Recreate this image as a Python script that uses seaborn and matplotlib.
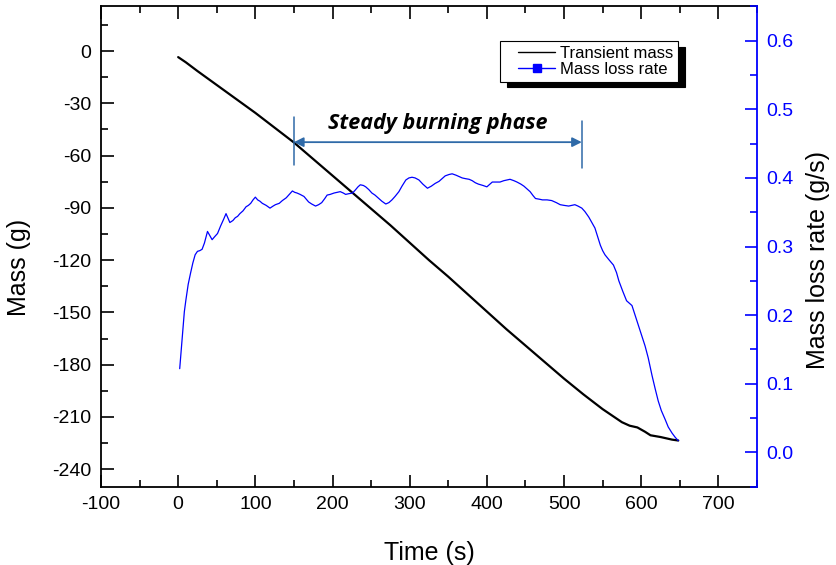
import matplotlib
matplotlib.use("Agg")
import matplotlib.pyplot as plt
from matplotlib.lines import Line2D
from matplotlib.legend_handler import HandlerLine2D
from matplotlib.ticker import MultipleLocator, FormatStrFormatter
import seaborn as sns
import pandas as pd

# transient mass (g) vs time (s)
mass_time = [0, 10, 25, 50, 75, 100, 125, 150, 175, 200, 225, 250, 275, 300,
             325, 350, 375, 400, 425, 450, 475, 500, 525, 550, 575, 585, 595,
             605, 612, 625, 640, 648]
mass_vals = [-3.5, -6.5, -11.5, -19.5, -27.5, -35.5, -44, -52.5, -62, -71.5,
             -81, -90.5, -100, -110, -120, -129.5, -139.5, -149.5, -159.5,
             -169, -178.5, -188, -197, -205.5, -213, -215, -216, -218.5,
             -220.5, -221.5, -223, -223.5]

# mass loss rate (g/s) vs time (s)
rate_time = [2, 4, 6, 8, 10, 13, 16, 19, 22, 25, 28, 31, 34, 38, 41, 44, 47,
             51, 55, 59, 62, 65, 67, 71, 74, 77, 80, 84, 88, 91, 94, 97, 100,
             103, 106, 109, 114, 119, 123, 126, 131, 135, 140, 144, 148, 151,
             154, 158, 163, 166, 169, 173, 178, 182, 186, 190, 193, 197, 202,
             206, 210, 214, 217, 221, 226, 230, 233, 236, 240, 243, 247, 251,
             255, 260, 264, 269, 273, 277, 281, 286, 290, 295, 299, 303, 307,
             312, 317, 323, 328, 333, 338, 342, 346, 351, 355, 360, 364, 368,
             372, 377, 381, 385, 389, 395, 400, 404, 407, 412, 417, 422, 426,
             430, 435, 439, 444, 448, 452, 456, 460, 463, 468, 472, 478, 484,
             490, 495, 500, 506, 510, 514, 518, 523, 527, 532, 536, 540, 544,
             547, 550, 553, 558, 564, 568, 571, 576, 581, 585, 588, 592, 596,
             600, 605, 609, 614, 618, 622, 626, 631, 635, 640, 644, 648]
rate_vals = [0.122, 0.150, 0.180, 0.205, 0.222, 0.245, 0.261, 0.276, 0.288,
             0.293, 0.294, 0.296, 0.305, 0.322, 0.316, 0.310, 0.314, 0.319,
             0.330, 0.340, 0.348, 0.340, 0.335, 0.338, 0.342, 0.344, 0.348,
             0.352, 0.358, 0.360, 0.363, 0.368, 0.372, 0.368, 0.366, 0.363,
             0.360, 0.356, 0.359, 0.361, 0.363, 0.367, 0.371, 0.376, 0.381,
             0.379, 0.378, 0.376, 0.373, 0.369, 0.365, 0.362, 0.359, 0.361,
             0.364, 0.370, 0.375, 0.376, 0.378, 0.379, 0.380, 0.378, 0.376,
             0.377, 0.378, 0.383, 0.387, 0.390, 0.389, 0.387, 0.383, 0.378,
             0.375, 0.370, 0.366, 0.362, 0.364, 0.368, 0.373, 0.380, 0.388,
             0.397, 0.400, 0.401, 0.400, 0.397, 0.391, 0.385, 0.388, 0.392,
             0.395, 0.399, 0.403, 0.405, 0.406, 0.404, 0.402, 0.400, 0.399,
             0.398, 0.396, 0.393, 0.391, 0.389, 0.387, 0.391, 0.394, 0.394,
             0.394, 0.396, 0.397, 0.398, 0.396, 0.394, 0.391, 0.388, 0.384,
             0.380, 0.374, 0.370, 0.369, 0.368, 0.368, 0.367, 0.364, 0.361,
             0.360, 0.359, 0.360, 0.361, 0.359, 0.356, 0.351, 0.343, 0.335,
             0.327, 0.313, 0.302, 0.294, 0.288, 0.281, 0.273, 0.262, 0.250,
             0.235, 0.221, 0.217, 0.214, 0.200, 0.186, 0.172, 0.155, 0.138,
             0.112, 0.093, 0.075, 0.061, 0.048, 0.037, 0.028, 0.022, 0.017]

phase_start = 150
phase_end = 523
phase_label = "Steady burning phase"
legend_labels = ["Transient mass", "Mass loss rate"]

mass_df = pd.DataFrame({"t": mass_time, "m": mass_vals})
rate_df = pd.DataFrame({"t": rate_time, "r": rate_vals})

sns.set_style("ticks")
plt.rcParams["font.family"] = ["Liberation Sans", "DejaVu Sans"]
plt.rcParams["axes.unicode_minus"] = False
plt.rcParams["text.color"] = "black"
plt.rcParams["axes.labelcolor"] = "black"

blue = "#0000ff"
arrow_c = "#2f6aa8"


class ShortLine(HandlerLine2D):
    # legend line only fills the right part of the handle box (Origin style)
    def create_artists(self, legend, orig_handle, xdescent, ydescent,
                       width, height, fontsize, trans):
        shift = width * 0.26
        return super().create_artists(legend, orig_handle, xdescent - shift,
                                      ydescent, width - shift, height,
                                      fontsize, trans)


fig = plt.figure(figsize=(8.36, 5.65), dpi=100)
ax = fig.add_axes([0.1208, 0.1386, 0.7847, 0.8513])
ax2 = ax.twinx()

sns.lineplot(data=mass_df, x="t", y="m", ax=ax, color="black", lw=1.6)
sns.lineplot(data=rate_df, x="t", y="r", ax=ax2, color=blue, lw=0.9)

ax.set_xlim(-100, 750)
ax.set_ylim(-250, 26)
ax2.set_ylim(-0.05, 0.651)

ax.xaxis.set_major_locator(MultipleLocator(100))
ax.xaxis.set_minor_locator(MultipleLocator(50))
ax.yaxis.set_major_locator(MultipleLocator(30))
ax.yaxis.set_minor_locator(MultipleLocator(15))
ax2.yaxis.set_major_locator(MultipleLocator(0.1))
ax2.yaxis.set_minor_locator(MultipleLocator(0.05))
ax2.yaxis.set_major_formatter(FormatStrFormatter("%.1f"))

ax.tick_params(axis="both", which="both", direction="in", labelsize=14,
               pad=7, width=1.2, top=True, right=False, colors="black")
ax.tick_params(which="major", length=9)
ax.tick_params(which="minor", length=5)
ax2.tick_params(axis="y", which="both", direction="in", labelsize=14, pad=7,
                width=1.2, colors=blue)
ax2.tick_params(which="major", length=9)
ax2.tick_params(which="minor", length=5)

for s in ["left", "bottom", "top"]:
    ax.spines[s].set_linewidth(1.3)
    ax.spines[s].set_color("black")
ax.spines["right"].set_visible(False)
for s in ["left", "bottom", "top"]:
    ax2.spines[s].set_visible(False)
ax2.spines["right"].set_linewidth(1.3)
ax2.spines["right"].set_color(blue)

ax.set_xlabel("Time (s)", fontsize=18, color="black")
ax.set_ylabel("Mass (g)", fontsize=18, color="black", va="center")
ax2.set_ylabel("Mass loss rate (g/s)", fontsize=18, color="black",
               va="center")
ax.xaxis.set_label_coords(0.5, -0.112)
ax.yaxis.set_label_coords(-0.125, 0.455)
ax2.yaxis.set_label_coords(1.093, 0.471)

# steady burning phase marker
ax.annotate("", xy=(phase_start, -52.3), xytext=(phase_end, -52.3),
            arrowprops=dict(arrowstyle="<|-|>", color=arrow_c, lw=1.3,
                            mutation_scale=14, shrinkA=0, shrinkB=0))
ax.plot([phase_start, phase_start], [-38, -65.5], color=arrow_c, lw=1.1)
ax.plot([phase_end, phase_end], [-40, -67], color=arrow_c, lw=1.1)
ax.text((phase_start + phase_end) / 2, -41.5, phase_label, ha="center",
        va="center", fontsize=15.5, fontweight="bold", fontstyle="italic",
        family=["Open Sans", "DejaVu Sans"])

handles = [Line2D([], [], color="black", lw=1.0),
           Line2D([], [], color=blue, lw=1.0, marker="s", markersize=6)]
leg = ax.legend(handles, legend_labels,
                loc="upper left", bbox_to_anchor=(500 / 836, 1 - 41 / 565),
                bbox_transform=fig.transFigure, borderaxespad=0,
                fontsize=12, frameon=True, fancybox=False, edgecolor="black",
                framealpha=1, handlelength=3.0, handletextpad=0.3,
                borderpad=0.3, labelspacing=0.05,
                handler_map={Line2D: ShortLine()},
                shadow={"color": "black", "alpha": 1, "ox": 5, "oy": -4})
leg.get_frame().set_linewidth(0.8)
leg.set_zorder(10)

fig.savefig("out.png", dpi=100)
